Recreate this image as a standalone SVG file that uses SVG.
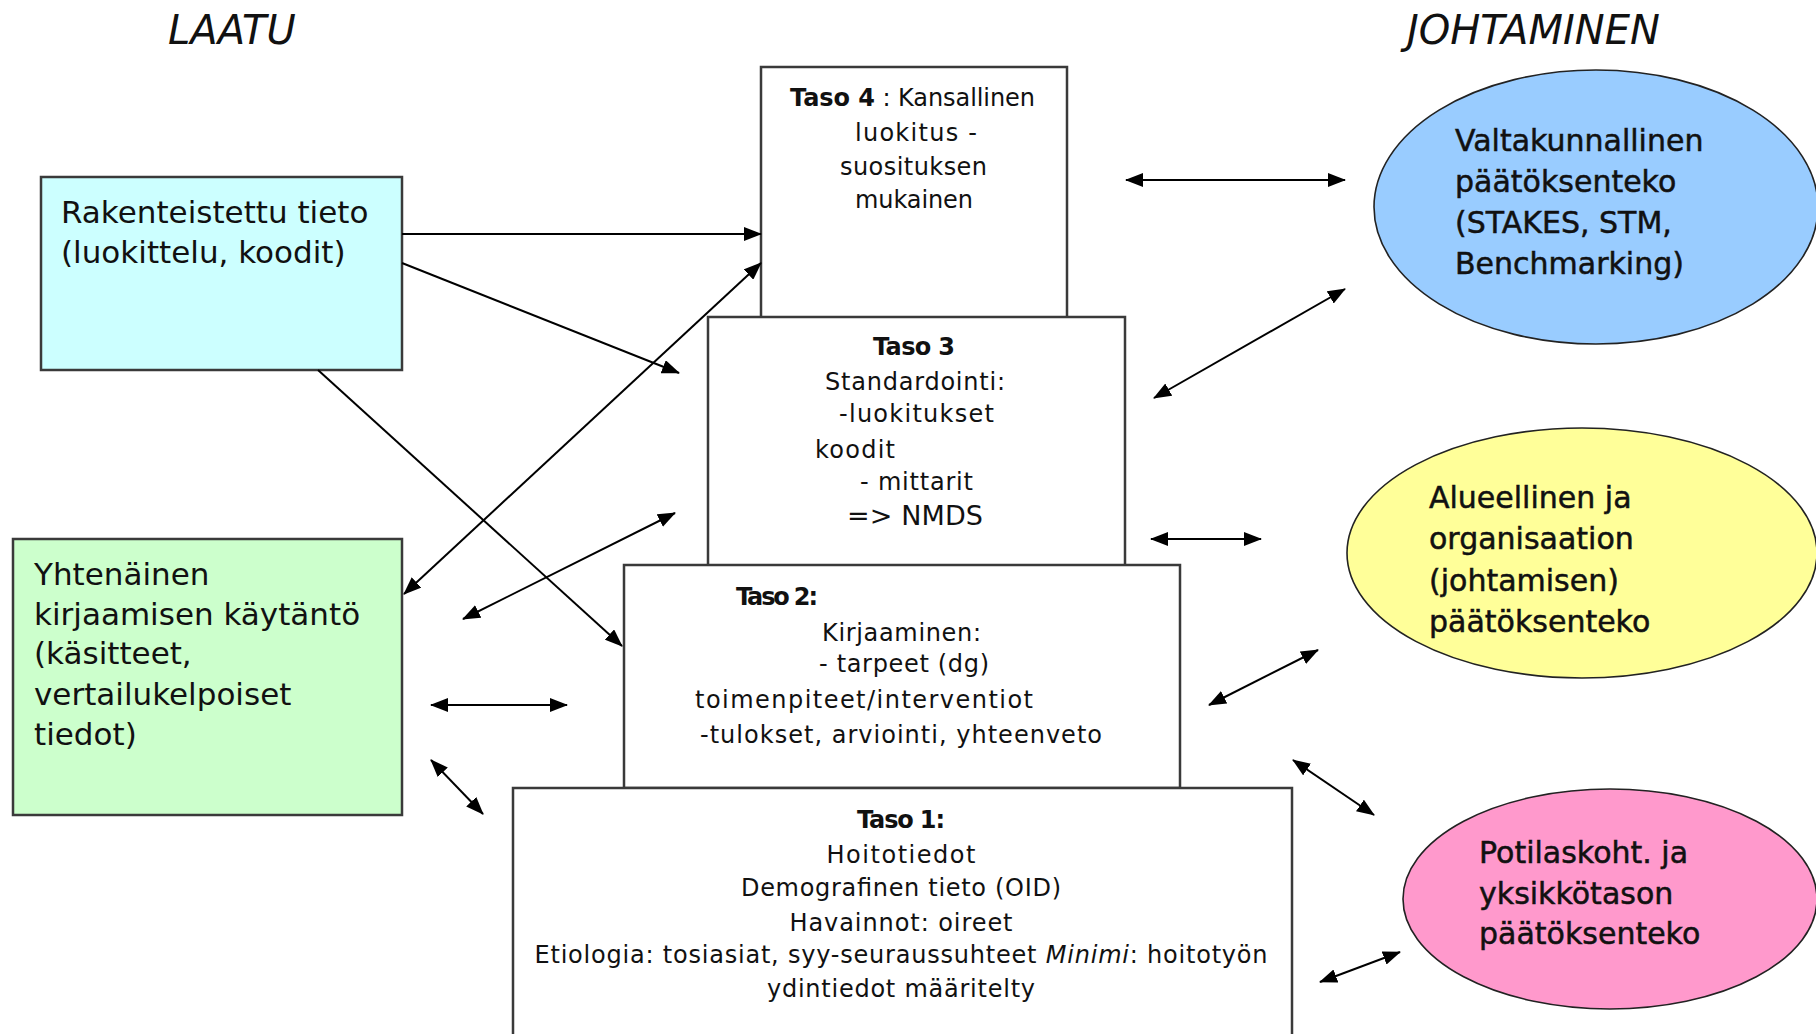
<svg xmlns="http://www.w3.org/2000/svg" width="1816" height="1034" viewBox="0 0 1816 1034">
<defs>
<style>
text{font-family:"DejaVu Sans","Liberation Sans",sans-serif;fill:#111;}
.title{font-size:40px;font-style:italic;}
.big{font-size:31px;}
.ell{font-size:30px;stroke:#111;stroke-width:0.5;}
.tas{font-size:24px;}
.b{font-weight:bold;}
.box{fill:#fff;stroke:#3a3a3a;stroke-width:2.5;}
.side{stroke:#3a3a3a;stroke-width:2.5;}
.oval{stroke:#222;stroke-width:1.6;}
.con line{stroke:#000;stroke-width:2;fill:none;}
.one{marker-end:url(#ah);}
.two{marker-start:url(#ah);marker-end:url(#ah);}
</style>
<marker id="ah" viewBox="0 0 18 14" refX="17" refY="7" markerWidth="18" markerHeight="14" markerUnits="userSpaceOnUse" orient="auto-start-reverse">
<path d="M0,0 L18,7 L0,14 z" fill="#000"/>
</marker>
</defs>
<rect width="1816" height="1034" fill="#fff"/>

<g id="title-laatu"><text class="title" x="168" y="44">LAATU</text></g>
<g id="title-johtaminen"><text class="title" x="1407" y="44">JOHTAMINEN</text></g>

<g id="taso4">
<rect class="box" x="761" y="67" width="306" height="252"/>
<text class="tas" text-anchor="middle" x="912.5" y="106" textLength="245"><tspan class="b">Taso 4</tspan> : Kansallinen</text>
<text class="tas" text-anchor="middle" x="916" y="141" textLength="122">luokitus -</text>
<text class="tas" text-anchor="middle" x="913.5" y="175" textLength="147">suosituksen</text>
<text class="tas" text-anchor="middle" x="914" y="208" textLength="118">mukainen</text>
</g>

<g id="taso3">
<rect class="box" x="708" y="317" width="417" height="250"/>
<text class="tas b" text-anchor="middle" x="914" y="355" textLength="82">Taso 3</text>
<text class="tas" text-anchor="middle" x="915" y="390" textLength="180">Standardointi:</text>
<text class="tas" x="839" y="422" textLength="155">-luokitukset</text>
<text class="tas" x="815" y="458" textLength="80">koodit</text>
<text class="tas" x="860" y="490" textLength="113">- mittarit</text>
<text x="847" y="525" font-family="Liberation Sans, Arial, sans-serif" font-size="27" textLength="136">=&gt; NMDS</text>
</g>

<g id="taso2">
<rect class="box" x="624" y="565" width="556" height="223"/>
<text class="tas b" x="736" y="605" textLength="82">Taso 2:</text>
<text class="tas" x="822" y="641" textLength="159">Kirjaaminen:</text>
<text class="tas" x="819" y="672" textLength="170">- tarpeet (dg)</text>
<text class="tas" x="695" y="708" textLength="338">toimenpiteet/interventiot</text>
<text class="tas" x="700" y="743" textLength="402">-tulokset, arviointi, yhteenveto</text>
</g>

<g id="taso1">
<rect class="box" x="513" y="788" width="779" height="260"/>
<text class="tas b" text-anchor="middle" x="901" y="828" textLength="88">Taso 1:</text>
<text class="tas" text-anchor="middle" x="901" y="863" textLength="149">Hoitotiedot</text>
<text class="tas" text-anchor="middle" x="901" y="896" textLength="320">Demografinen tieto (OID)</text>
<text class="tas" text-anchor="middle" x="901" y="931" textLength="223">Havainnot: oireet</text>
<text class="tas" text-anchor="middle" x="901" y="963" textLength="733">Etiologia: tosiasiat, syy-seuraussuhteet <tspan font-style="italic">Minimi</tspan>: hoitotyön</text>
<text class="tas" text-anchor="middle" x="901" y="997" textLength="268">ydintiedot määritelty</text>
</g>

<g id="rakenteistettu">
<rect class="side" x="41" y="177" width="361" height="193" fill="#CCFFFF"/>
<text class="big" x="61" y="223">Rakenteistettu tieto</text>
<text class="big" x="61" y="263">(luokittelu, koodit)</text>
</g>

<g id="yhtenainen">
<rect class="side" x="13" y="539" width="389" height="276" fill="#CCFFCC"/>
<text class="big" x="34" y="585">Yhtenäinen</text>
<text class="big" x="34" y="625">kirjaamisen käytäntö</text>
<text class="big" x="34" y="664">(käsitteet,</text>
<text class="big" x="34" y="705">vertailukelpoiset</text>
<text class="big" x="34" y="745">tiedot)</text>
</g>

<g id="valtakunnallinen">
<ellipse class="oval" cx="1596" cy="207" rx="222" ry="137" fill="#99CCFF"/>
<text class="ell" x="1455" y="151">Valtakunnallinen</text>
<text class="ell" x="1455" y="192">päätöksenteko</text>
<text class="ell" x="1455" y="233">(STAKES, STM,</text>
<text class="ell" x="1455" y="274">Benchmarking)</text>
</g>

<g id="alueellinen">
<ellipse class="oval" cx="1582" cy="553" rx="235" ry="125" fill="#FFFF99"/>
<text class="ell" x="1429" y="508">Alueellinen ja</text>
<text class="ell" x="1429" y="549">organisaation</text>
<text class="ell" x="1429" y="591">(johtamisen)</text>
<text class="ell" x="1429" y="632">päätöksenteko</text>
</g>

<g id="potilaskoht">
<ellipse class="oval" cx="1610" cy="899" rx="207" ry="110" fill="#FF99CC"/>
<text class="ell" x="1479" y="863">Potilaskoht. ja</text>
<text class="ell" x="1479" y="904">yksikkötason</text>
<text class="ell" x="1479" y="944">päätöksenteko</text>
</g>

<g id="connectors" class="con">
<line class="one" x1="402" y1="234" x2="761" y2="234"/>
<line class="one" x1="402" y1="263" x2="679" y2="373"/>
<line class="one" x1="318" y1="370" x2="622" y2="646"/>
<line class="two" x1="404" y1="594" x2="761" y2="263"/>
<line class="two" x1="463" y1="619" x2="675" y2="513"/>
<line class="two" x1="431" y1="705" x2="567" y2="705"/>
<line class="two" x1="431" y1="760" x2="483" y2="814"/>
<line class="two" x1="1126" y1="180" x2="1345" y2="180"/>
<line class="two" x1="1154" y1="398" x2="1345" y2="289"/>
<line class="two" x1="1151" y1="539" x2="1261" y2="539"/>
<line class="two" x1="1209" y1="705" x2="1318" y2="650"/>
<line class="two" x1="1293" y1="760" x2="1374" y2="815"/>
<line class="two" x1="1320" y1="982" x2="1400" y2="952"/>
</g>
</svg>
